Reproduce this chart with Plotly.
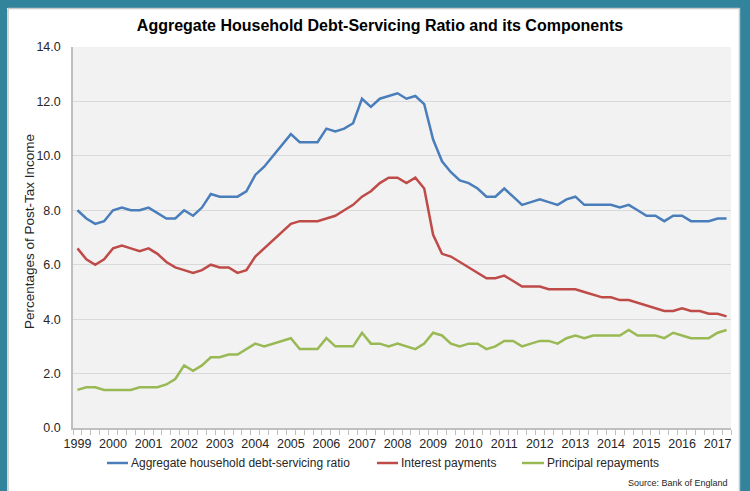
import plotly.graph_objects as go

# Quarterly observations, 1999 Q1 to 2017 Q2 (per cent of post-tax income)
years = list(range(1999, 2018))
quarters = [f"{y} Q{q}" for y in years for q in range(1, 5)][:74]

debt_servicing = [
    8.0, 7.7, 7.5, 7.6, 8.0, 8.1, 8.0, 8.0, 8.1, 7.9, 7.7, 7.7,
    8.0, 7.8, 8.1, 8.6, 8.5, 8.5, 8.5, 8.7, 9.3, 9.6, 10.0, 10.4,
    10.8, 10.5, 10.5, 10.5, 11.0, 10.9, 11.0, 11.2, 12.1, 11.8, 12.1, 12.2,
    12.3, 12.1, 12.2, 11.9, 10.6, 9.8, 9.4, 9.1, 9.0, 8.8, 8.5, 8.5,
    8.8, 8.5, 8.2, 8.3, 8.4, 8.3, 8.2, 8.4, 8.5, 8.2, 8.2, 8.2,
    8.2, 8.1, 8.2, 8.0, 7.8, 7.8, 7.6, 7.8, 7.8, 7.6, 7.6, 7.6,
    7.7, 7.7,
]
interest = [
    6.6, 6.2, 6.0, 6.2, 6.6, 6.7, 6.6, 6.5, 6.6, 6.4, 6.1, 5.9,
    5.8, 5.7, 5.8, 6.0, 5.9, 5.9, 5.7, 5.8, 6.3, 6.6, 6.9, 7.2,
    7.5, 7.6, 7.6, 7.6, 7.7, 7.8, 8.0, 8.2, 8.5, 8.7, 9.0, 9.2,
    9.2, 9.0, 9.2, 8.8, 7.1, 6.4, 6.3, 6.1, 5.9, 5.7, 5.5, 5.5,
    5.6, 5.4, 5.2, 5.2, 5.2, 5.1, 5.1, 5.1, 5.1, 5.0, 4.9, 4.8,
    4.8, 4.7, 4.7, 4.6, 4.5, 4.4, 4.3, 4.3, 4.4, 4.3, 4.3, 4.2,
    4.2, 4.1,
]
principal = [
    1.4, 1.5, 1.5, 1.4, 1.4, 1.4, 1.4, 1.5, 1.5, 1.5, 1.6, 1.8,
    2.3, 2.1, 2.3, 2.6, 2.6, 2.7, 2.7, 2.9, 3.1, 3.0, 3.1, 3.2,
    3.3, 2.9, 2.9, 2.9, 3.3, 3.0, 3.0, 3.0, 3.5, 3.1, 3.1, 3.0,
    3.1, 3.0, 2.9, 3.1, 3.5, 3.4, 3.1, 3.0, 3.1, 3.1, 2.9, 3.0,
    3.2, 3.2, 3.0, 3.1, 3.2, 3.2, 3.1, 3.3, 3.4, 3.3, 3.4, 3.4,
    3.4, 3.4, 3.6, 3.4, 3.4, 3.4, 3.3, 3.5, 3.4, 3.3, 3.3, 3.3,
    3.5, 3.6,
]

series_names = [
    "Aggregate household debt-servicing ratio",
    "Interest payments",
    "Principal repayments",
]
series_colors = ["#4A7EBB", "#BE4B48", "#98B954"]
y_ticks = [0, 2, 4, 6, 8, 10, 12, 14]

W, H = 750, 491
L, R, T, B = 73, 19, 47, 63
plot_w, plot_h = W - L - R, H - T - B


def px_x(p):
    """Horizontal pixel -> paper fraction."""
    return (p - L) / plot_w


def px_y(p):
    """Vertical pixel (from top) -> paper fraction."""
    return (H - B - p) / plot_h


# position along the axis: one slot per quarter
xpos = list(range(len(quarters)))

fig = go.Figure()
for name, vals, col in zip(series_names, [debt_servicing, interest, principal], series_colors):
    fig.add_trace(go.Scatter(
        x=xpos, y=vals, mode="lines", name=name,
        line=dict(color=col, width=2.5),
        customdata=quarters,
        hovertemplate="%{customdata}: %{y:.1f}<extra></extra>",
        showlegend=False,
    ))

font_family = "Liberation Sans, Arial, sans-serif"
text_color = "#262626"

# white card with a teal frame
teal = "#31849B"
frame = [
    dict(x0=px_x(0), x1=px_x(7), y0=px_y(H + 5), y1=px_y(-5)),
    dict(x0=px_x(0), x1=px_x(W + 5), y0=px_y(8), y1=px_y(-5)),
    dict(x0=px_x(740), x1=px_x(W + 5), y0=px_y(H + 5), y1=px_y(-5)),
]
shapes = [dict(type="rect", xref="paper", yref="paper", fillcolor=teal,
               line=dict(width=0), layer="above", **f) for f in frame]
edge = dict(color="#C8C8C8", width=1.5)
shapes += [
    dict(type="line", xref="paper", yref="paper", x0=px_x(8), x1=px_x(8),
         y0=px_y(H + 5), y1=px_y(8.5), line=edge),
    dict(type="line", xref="paper", yref="paper", x0=px_x(8), x1=px_x(739.5),
         y0=px_y(8.5), y1=px_y(8.5), line=edge),
    dict(type="line", xref="paper", yref="paper", x0=px_x(739.5), x1=px_x(739.5),
         y0=px_y(H + 5), y1=px_y(8.5), line=edge),
]

# legend row beneath the axis
legend_y = 463
legend_keys = [(107, 128), (377, 398), (522, 544)]
annotations = []
for (k0, k1), name, col in zip(legend_keys, series_names, series_colors):
    shapes.append(dict(type="line", xref="paper", yref="paper",
                       x0=px_x(k0), x1=px_x(k1), y0=px_y(legend_y), y1=px_y(legend_y),
                       line=dict(color=col, width=2.5)))
    annotations.append(dict(text=name, xref="paper", yref="paper",
                            x=px_x(k1 + 0.5), y=px_y(legend_y), xanchor="left", yanchor="middle",
                            showarrow=False,
                            font=dict(family=font_family, size=12, color=text_color)))

annotations.append(dict(
    text="Source: Bank of England", xref="paper", yref="paper",
    x=px_x(730), y=px_y(483), xanchor="right", yanchor="middle",
    showarrow=False, font=dict(family=font_family, size=9, color=text_color),
))

# vertical axis title
annotations.append(dict(
    text="Percentages of Post-Tax Income", xref="paper", yref="paper",
    x=px_x(30), y=px_y(232), xanchor="center", yanchor="middle", textangle=-90,
    showarrow=False, font=dict(family=font_family, size=13.5, color=text_color),
))

fig.update_layout(
    width=W, height=H,
    margin=dict(l=L, r=R, t=T, b=B, pad=0),
    paper_bgcolor="white", plot_bgcolor="#F2F2F2",
    font=dict(family=font_family, color=text_color),
    showlegend=False,
    title=dict(
        text="<b>Aggregate Household Debt-Servicing Ratio and its Components</b>",
        x=380 / W, xanchor="center", xref="container",
        y=1 - 25 / H, yanchor="middle", yref="container",
        font=dict(family=font_family, size=16, color="#000000"),
    ),
    shapes=shapes,
    annotations=annotations,
    xaxis=dict(
        range=[-0.5, len(quarters) - 0.5],
        tickmode="array",
        tickvals=[xpos[i] for i in range(0, len(quarters), 4)],
        ticktext=[str(y) for y in years],
        ticks="outside", ticklen=3, tickcolor="rgba(0,0,0,0)",
        showgrid=False, zeroline=False,
        showline=True, linecolor="#BFBFBF", linewidth=1.5,
        tickfont=dict(family=font_family, size=12.5, color=text_color),
        minor=dict(tickmode="array",
                   tickvals=[p - 0.5 for p in xpos] + [len(quarters) - 0.5],
                   ticks="outside", ticklen=5, tickcolor="#BFBFBF",
                   tickwidth=1, showgrid=False),
        fixedrange=True,
    ),
    yaxis=dict(
        range=[0, 14],
        tickmode="array", tickvals=y_ticks,
        tickformat=".1f",
        showgrid=True, gridcolor="#D9D9D9", gridwidth=1,
        zeroline=False, showline=True, linecolor="#BFBFBF", linewidth=1.5,
        ticks="outside", ticklen=8, tickcolor="rgba(0,0,0,0)",
        tickfont=dict(family=font_family, size=12.5, color=text_color),
        fixedrange=True,
    ),
)

fig.write_html("out.html")
